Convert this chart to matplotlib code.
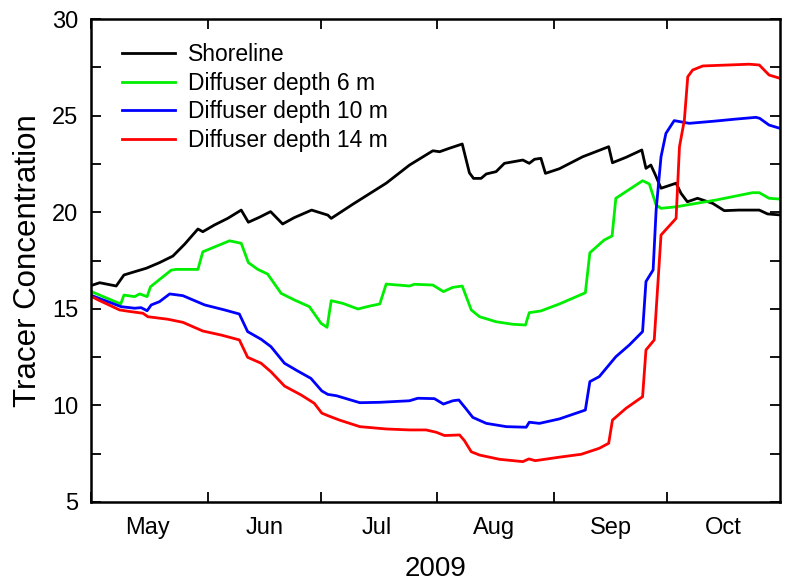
import numpy as np, pandas as pd
import matplotlib; matplotlib.use("Agg")
import matplotlib.pyplot as plt
import matplotlib.dates as mdates
from matplotlib.ticker import MultipleLocator

plt.rcParams["font.family"] = ["Liberation Sans", "DejaVu Sans"]

START = pd.Timestamp("2009-05-01")

# days since 1 May 2009
shore_day = [0, 2.3, 6.7, 8.75, 11.6, 14.7, 18.2, 21.75, 24.85, 28.4, 29.7, 32.8, 36.3, 39.9,
             41.8, 44.75, 47.7, 50.9, 54.0, 58.6, 62.9, 63.8, 69.6, 78.4, 84.6, 90.8, 92.6,
             95.2, 98.6, 100.5, 101.6, 103.6, 105.0, 107.6, 109.8, 114.7, 116.4, 117.8, 119.5,
             120.7, 124.4, 130.6, 137.5, 138.5, 142.1, 146.3, 147.4, 148.7, 149.9, 151.4,
             155.4, 156.7, 158.4, 161.1, 165.1, 168.2, 172.1, 177.5, 179.7, 183.0]
shore_val = [16.2, 16.35, 16.18, 16.75, 16.92, 17.1, 17.39, 17.73, 18.34, 19.13, 18.99, 19.34,
             19.68, 20.11, 19.48, 19.74, 20.03, 19.39, 19.72, 20.11, 19.85, 19.68, 20.42, 21.5,
             22.44, 23.18, 23.13, 23.31, 23.53, 22.04, 21.75, 21.75, 21.98, 22.10, 22.53, 22.70,
             22.53, 22.74, 22.79, 22.01, 22.25, 22.87, 23.39, 22.56, 22.84, 23.22, 22.27, 22.44,
             21.93, 21.24, 21.5, 20.98, 20.54, 20.72, 20.46, 20.08, 20.11, 20.11, 19.91, 19.86]

d6_day = [0, 2.3, 7.9, 8.75, 11.6, 12.9, 13.8, 14.9, 15.8, 21.3, 22.6, 28.4, 29.7, 36.8, 39.9,
          41.8, 44.3, 46.9, 50.5, 54.0, 58.0, 61.1, 62.7, 63.8, 66.9, 70.9, 74.0, 76.7, 78.4,
          84.6, 85.9, 90.8, 93.6, 96.1, 98.6, 101.0, 103.2, 107.6, 112.0, 115.4, 116.4, 119.5,
          124.4, 131.3, 132.5, 136.3, 138.4, 139.4, 146.5, 148.3, 150.1, 151.4, 155.4, 166.0,
          175.7, 177.5, 180.1, 183.0]
d6_val = [15.9, 15.71, 15.25, 15.71, 15.63, 15.77, 15.71, 15.63, 16.14, 17.0, 17.04, 17.04, 17.95,
          18.52, 18.39, 17.39, 17.04, 16.80, 15.80, 15.46, 15.11, 14.25, 14.04, 15.42, 15.28,
          14.99, 15.14, 15.25, 16.28, 16.18, 16.27, 16.23, 15.89, 16.11, 16.18, 14.94, 14.59,
          14.33, 14.20, 14.16, 14.80, 14.89, 15.25, 15.83, 17.90, 18.56, 18.77, 20.72, 21.63,
          21.46, 20.37, 20.20, 20.28, 20.63, 21.01, 21.01, 20.72, 20.68]

d10_day = [0, 8.0, 11.6, 13.3, 14.9, 16.0, 18.2, 20.9, 24.4, 30.2, 35.5, 39.4, 41.6, 45.2, 47.8,
           51.4, 54.9, 58.4, 61.3, 62.9, 65.2, 71.4, 76.7, 84.6, 86.8, 91.2, 93.6, 96.1, 97.7,
           99.5, 101.4, 105.0, 110.3, 115.6, 116.4, 119.1, 124.4, 131.3, 132.5, 135.0, 139.4,
           143.0, 146.5, 147.4, 149.3, 150.1, 151.4, 152.7, 154.9, 158.9, 166.0, 171.3, 176.6,
           177.6, 180.1, 183.0]
d10_val = [15.7, 15.11, 15.03, 15.06, 14.90, 15.20, 15.37, 15.77, 15.68, 15.20, 14.94, 14.73,
           13.82, 13.42, 13.04, 12.18, 11.78, 11.40, 10.75, 10.57, 10.50, 10.14, 10.16, 10.24,
           10.37, 10.35, 10.07, 10.24, 10.28, 9.85, 9.38, 9.07, 8.90, 8.87, 9.13, 9.07, 9.30,
           9.76, 11.23, 11.49, 12.52, 13.13, 13.82, 16.41, 17.01, 20.11, 22.87, 24.08, 24.74,
           24.60, 24.72, 24.82, 24.91, 24.86, 24.51, 24.34]

d14_day = [0, 1.9, 7.6, 10.7, 13.8, 15.1, 20.4, 24.4, 29.7, 34.6, 39.4, 41.6, 45.2, 47.8, 51.4,
           55.8, 59.3, 61.3, 62.9, 66.0, 71.4, 78.4, 84.6, 89.0, 91.7, 93.9, 97.9, 99.2, 101.0,
           103.2, 108.5, 114.7, 116.3, 118.0, 124.4, 130.2, 135.0, 137.5, 138.5, 142.1, 146.5,
           147.4, 149.6, 151.4, 155.4, 156.3, 157.6, 158.5, 159.8, 162.5, 174.8, 177.5, 180.1,
           183.0]
d14_val = [15.65, 15.46, 14.94, 14.85, 14.77, 14.59, 14.46, 14.30, 13.85, 13.64, 13.39, 12.49,
           12.18, 11.74, 11.00, 10.54, 10.11, 9.60, 9.47, 9.24, 8.90, 8.78, 8.73, 8.73, 8.61,
           8.44, 8.47, 8.17, 7.60, 7.43, 7.21, 7.09, 7.23, 7.14, 7.32, 7.47, 7.78, 8.04, 9.24,
           9.85, 10.45, 12.87, 13.39, 18.82, 19.68, 23.39, 24.77, 27.01, 27.36, 27.57, 27.66,
           27.62, 27.10, 26.93]

SERIES = [("Shoreline", shore_day, shore_val, "#000000"),
          ("Diffuser depth 6 m", d6_day, d6_val, "#00ee00"),
          ("Diffuser depth 10 m", d10_day, d10_val, "#0000ff"),
          ("Diffuser depth 14 m", d14_day, d14_val, "#ff0000")]


def to_dates(days):
    return START + pd.to_timedelta(np.asarray(days), unit="D")


fig = plt.figure(figsize=(7.88, 5.84), dpi=100)
ax = fig.add_axes([91/788, 82/584, 689/788, 483/584])
for name, d, v, c in SERIES:
    ax.plot(to_dates(d), v, color=c, lw=2.0, label=name)

ax.set_xlim(START, pd.Timestamp("2009-10-31"))
ax.set_ylim(5, 30)
ax.yaxis.set_major_locator(MultipleLocator(5))
ax.yaxis.set_minor_locator(MultipleLocator(2.5))
ax.xaxis.set_major_locator(mdates.MonthLocator(bymonthday=1))
ax.xaxis.set_major_formatter(plt.NullFormatter())
ax.xaxis.set_minor_locator(mdates.MonthLocator(bymonthday=16))
ax.xaxis.set_minor_formatter(mdates.DateFormatter("%b"))
ax.tick_params(axis="x", which="major", direction="in", length=7, width=1.3, top=True)
ax.tick_params(axis="x", which="minor", length=0, pad=11, labelsize=17)
ax.tick_params(axis="y", which="major", direction="in", length=7, width=1.3, right=True,
               labelsize=17, pad=9)
ax.tick_params(axis="y", which="minor", direction="in", length=7, width=1.3, right=True)
for s in ax.spines.values():
    s.set_linewidth(1.8)

ax.set_ylabel("Tracer Concentration", fontsize=22.5, labelpad=7)
ax.set_xlabel("2009", fontsize=20, labelpad=12)
ax.legend(loc="upper left", bbox_to_anchor=(0.032, 0.969), borderaxespad=0,
          frameon=False, fontsize=16.5, handlelength=2.3,
          handletextpad=0.55, labelspacing=0.24)

fig.savefig("out.png", dpi=100)
